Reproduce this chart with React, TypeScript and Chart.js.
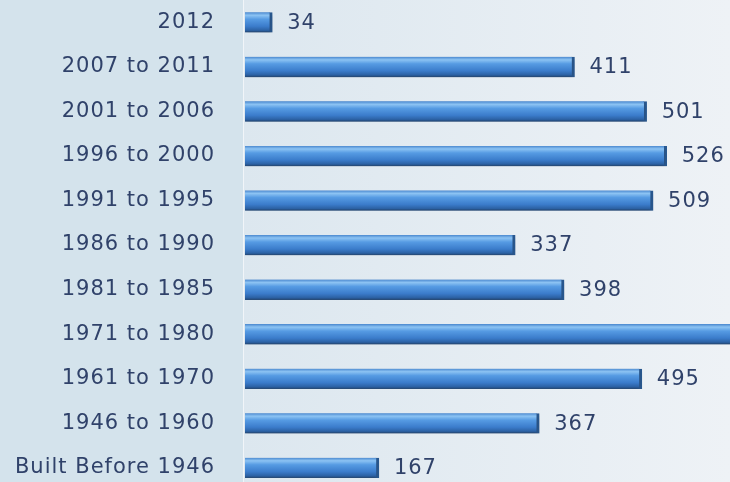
import React, { useEffect, useRef } from "react";
import { Chart, registerables } from "chart.js";

Chart.register(...registerables);

const categories = [
  "2012",
  "2007 to 2011",
  "2001 to 2006",
  "1996 to 2000",
  "1991 to 1995",
  "1986 to 1990",
  "1981 to 1985",
  "1971 to 1980",
  "1961 to 1970",
  "1946 to 1960",
  "Built Before 1946",
];
const values = [34, 411, 501, 526, 509, 337, 398, 650, 495, 367, 167];
const xMax = 605;

const TEXT = "#30426a";
const FONT_FAMILY = "'DejaVu Sans', sans-serif";
const SPACING = "1px";

const backgroundPlugin = {
  id: "bgPanel",
  beforeDraw(chart: any) {
    const { ctx, width, height, chartArea } = chart;
    ctx.save();
    const left = chartArea.left - 2;
    ctx.fillStyle = "#d4e3ec";
    ctx.fillRect(0, 0, left, height);
    const g = ctx.createLinearGradient(left, 0, width, 0);
    g.addColorStop(0, "#dce7ef");
    g.addColorStop(1, "#eef2f6");
    ctx.fillStyle = g;
    ctx.fillRect(left, 0, width - left, height);
    ctx.fillStyle = "rgba(255,255,255,0.6)";
    ctx.fillRect(left, 0, 1, height);
    ctx.restore();
    (ctx as any).letterSpacing = SPACING;
  },
  beforeDatasetsDraw(chart: any) {
    const ctx = chart.ctx;
    ctx.save();
    ctx.shadowColor = "rgba(40,50,70,0.35)";
    ctx.shadowBlur = 4;
    ctx.shadowOffsetY = 3;
  },
  afterDatasetsDraw(chart: any) {
    const ctx = chart.ctx;
    ctx.restore();
    const meta = chart.getDatasetMeta(0);
    ctx.save();
    (ctx as any).letterSpacing = SPACING;
    ctx.font = `21px ${FONT_FAMILY}`;
    ctx.fillStyle = TEXT;
    ctx.textAlign = "left";
    ctx.textBaseline = "middle";
    meta.data.forEach((el: any, i: number) => {
      ctx.fillText(String(values[i]), el.x + 15, el.y + 1);
    });
    ctx.restore();
  },
};

export default function App() {
  const ref = useRef<HTMLCanvasElement>(null);
  useEffect(() => {
    document.body.style.margin = "0";
    document.body.style.overflow = "hidden";
    const canvas = ref.current!;
    const chart = new Chart(canvas, {
      type: "bar",
      data: {
        labels: categories,
        datasets: [
          {
            data: values,
            barThickness: 20,
            backgroundColor: (c: any) => {
              const ch = c.chart;
              if (!ch.chartArea || !ch.scales.y) return "#3f86d6";
              const y = ch.scales.y.getPixelForValue(c.dataIndex);
              const h = 20;
              const g = ch.ctx.createLinearGradient(0, y - h / 2, 0, y + h / 2);
              g.addColorStop(0, "#4a88cf");
              g.addColorStop(0.15, "#8cc3f3");
              g.addColorStop(0.35, "#569be3");
              g.addColorStop(0.7, "#3b7ccb");
              g.addColorStop(0.9, "#2c62a5");
              g.addColorStop(1, "#22497a");
              return g;
            },
            borderColor: "#285890",
            borderWidth: { top: 0, left: 0, right: 3, bottom: 1 },
            borderSkipped: false,
          },
        ],
      },
      options: {
        indexAxis: "y",
        animation: false,
        responsive: false,
        maintainAspectRatio: false,
        layout: { padding: 0 },
        plugins: {
          legend: { display: false },
          tooltip: { enabled: false },
          title: { display: false },
        },
        scales: {
          x: {
            display: false,
            min: 0,
            max: xMax,
          },
          y: {
            afterFit: (s: any) => {
              s.width = 245;
              s.paddingTop = 0;
              s.paddingBottom = 0;
            },
            grid: { display: false, drawTicks: false },
            border: { display: false },
            ticks: {
              padding: 30,
              color: TEXT,
              font: { family: FONT_FAMILY, size: 21 },
            },
          },
        },
      },
      plugins: [backgroundPlugin],
    } as any);
    return () => chart.destroy();
  }, []);
  return (
    <div style={{ width: 730, height: 482, overflow: "hidden" }}>
      <canvas ref={ref} width={730} height={490} style={{ display: "block" }} />
    </div>
  );
}
